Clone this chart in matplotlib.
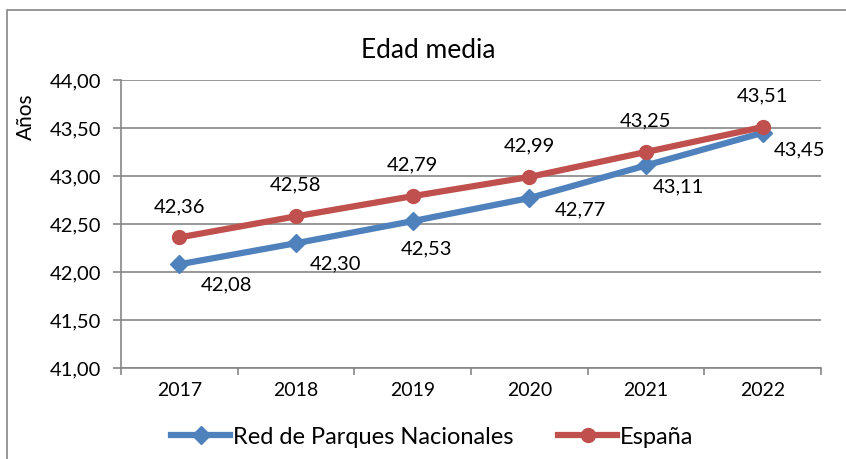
import matplotlib.pyplot as plt
from matplotlib.patches import Rectangle

years = ["2017", "2018", "2019", "2020", "2021", "2022"]
red_parques = [42.08, 42.30, 42.53, 42.77, 43.11, 43.45]
espana = [42.36, 42.58, 42.79, 42.99, 43.25, 43.51]

# label placement (pixels from the point), as in the original chart
blue_offsets = [(47, -21), (40, -21), (14, -28), (51, -12), (32, -21), (37, -17)]

blue = "#4F81BD"
red = "#C0504D"
grid_col = "#868686"

plt.rcParams['font.family'] = ['Lato', 'DejaVu Sans']

W, H = 846, 459
fig = plt.figure(figsize=(W / 100, H / 100), dpi=100)

# outer chart border (only left/top visible in the original)
fig.patches.append(Rectangle((7 / W, -0.1), 1.2, 1 - 10 / H + 0.1,
                             transform=fig.transFigure, fill=False,
                             edgecolor=grid_col, linewidth=1.2))

ax = fig.add_axes([121 / W, 1 - 368 / H, (821 - 121) / W, (368 - 80) / H])
x = list(range(len(years)))

ax.plot(x, red_parques, color=blue, lw=4.5, marker="D", markersize=9,
        label="Red de Parques Nacionales", zorder=3)
ax.plot(x, espana, color=red, lw=4.5, marker="o", markersize=10,
        label="España", zorder=4)

for xi, v, off in zip(x, red_parques, blue_offsets):
    ax.annotate(f"{v:.2f}".replace(".", ","), (xi, v), xytext=off,
                textcoords="offset pixels", ha="center", va="center", fontsize=14.5)
for xi, v in zip(x, espana):
    ax.annotate(f"{v:.2f}".replace(".", ","), (xi, v), xytext=(0, 31),
                textcoords="offset pixels", ha="center", va="center", fontsize=14.5)

ax.set_xlim(-0.5, len(years) - 0.5)
ax.set_ylim(41, 44)
ax.set_yticks([41 + 0.5 * i for i in range(7)])
ax.set_yticklabels([f"{41 + 0.5 * i:.2f}".replace(".", ",") for i in range(7)], fontsize=14.5)
ax.set_xticks(x)
ax.set_xticklabels(years, fontsize=14)
ax.set_xticks([i - 0.5 for i in range(len(years) + 1)], minor=True)
ax.tick_params(axis="x", which="major", length=0, pad=10)
ax.tick_params(axis="x", which="minor", length=5, color=grid_col, width=1.2)
ax.tick_params(axis="y", length=6, color=grid_col, width=1.2, pad=8)

ax.grid(axis="y", color=grid_col, lw=1.2)
ax.set_axisbelow(True)
for s in ["top", "right"]:
    ax.spines[s].set_visible(False)
for s in ["left", "bottom"]:
    ax.spines[s].set_color(grid_col)
    ax.spines[s].set_linewidth(1.2)

ax.set_ylabel("Años", fontsize=15)
ax.yaxis.set_label_coords(-85 / (821 - 121), 1 - (117 - 80) / (368 - 80))
fig.text(428 / W, 1 - 50 / H, "Edad media", ha="center", va="center", fontsize=19)

fig.legend(loc="center", bbox_to_anchor=(432 / W, 1 - 437 / H), ncol=2,
           frameon=False, fontsize=17, handlelength=2.5, handletextpad=0.1,
           columnspacing=1.9)

fig.savefig("out.png", dpi=100)
